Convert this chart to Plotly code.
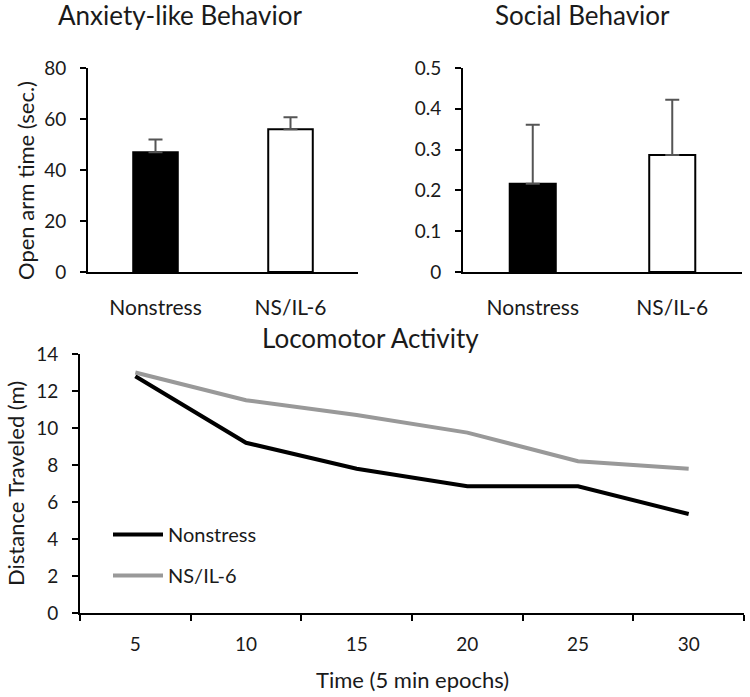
import plotly.graph_objects as go

groups = ["Nonstress", "NS/IL-6"]
anxiety_means = [47, 56]
anxiety_err = [5, 4.7]
social_means = [0.216, 0.287]
social_err = [0.145, 0.135]

epochs = ["5", "10", "15", "20", "25", "30"]
loco_nonstress = [12.8, 9.2, 7.8, 6.85, 6.85, 5.35]
loco_nsil6 = [13.0, 11.5, 10.7, 9.75, 8.2, 7.8]

FONT = "Lato"
TXT = "#1a1a1a"
bar_colors = ["black", "white"]

fig = go.Figure()

fig.add_trace(go.Bar(
    x=groups, y=anxiety_means, xaxis="x", yaxis="y",
    marker=dict(color=bar_colors, line=dict(color="black", width=2)),
    error_y=dict(type="data", array=anxiety_err, arrayminus=[0, 0], symmetric=False,
                 color="#555555", thickness=2, width=7),
    showlegend=False))

fig.add_trace(go.Bar(
    x=groups, y=social_means, xaxis="x2", yaxis="y2",
    marker=dict(color=bar_colors, line=dict(color="black", width=2)),
    error_y=dict(type="data", array=social_err, arrayminus=[0, 0], symmetric=False,
                 color="#555555", thickness=2, width=7),
    showlegend=False))

fig.add_trace(go.Scatter(
    x=epochs, y=loco_nonstress, xaxis="x3", yaxis="y3", mode="lines",
    line=dict(color="black", width=4), name="Nonstress", legendgroup="a"))
fig.add_trace(go.Scatter(
    x=epochs, y=loco_nsil6, xaxis="x3", yaxis="y3", mode="lines",
    line=dict(color="#999999", width=4), name="NS/IL-6", legendgroup="b"))

W, H = 750, 697
def px_x(p):
    return p / W
def px_y(p):
    return 1 - p / H

axis_common = dict(showline=True, linecolor="black", linewidth=2, showgrid=False,
                   zeroline=False, automargin=False,
                   tickfont=dict(family=FONT, size=19, color=TXT))

fig.update_layout(
    width=W, height=H,
    margin=dict(l=0, r=0, t=0, b=0, autoexpand=False),
    paper_bgcolor="white", plot_bgcolor="white",
    bargap=0.67,
    font=dict(family=FONT, color=TXT),
    xaxis=dict(domain=[px_x(88), px_x(358)], anchor="y", ticks="", ticklabelstandoff=16,
               **{**axis_common, "tickfont": dict(family=FONT, size=21, color=TXT)}),
    yaxis=dict(domain=[px_y(272), px_y(68)], anchor="x", range=[0, 80], tickvals=[0, 20, 40, 60, 80],
               ticks="outside", ticklen=6, tickwidth=2, tickcolor="black", ticklabelstandoff=10,
               **axis_common),
    xaxis2=dict(domain=[px_x(463), px_x(742)], anchor="y2", ticks="", ticklabelstandoff=16,
                **{**axis_common, "tickfont": dict(family=FONT, size=21, color=TXT)}),
    yaxis2=dict(domain=[px_y(272), px_y(68)], anchor="x2", range=[0, 0.5],
                tickvals=[0, 0.1, 0.2, 0.3, 0.4, 0.5], ticktext=["0", "0.1", "0.2", "0.3", "0.4", "0.5"],
                ticks="outside", ticklen=6, tickwidth=2, tickcolor="black", ticklabelstandoff=10,
                **axis_common),
    xaxis3=dict(domain=[px_x(80), px_x(744)], anchor="y3", type="category", range=[-0.5, 5.5],
                tickson="boundaries", ticks="outside", ticklen=6, tickwidth=2, tickcolor="black",
                ticklabelstandoff=13, **axis_common),
    yaxis3=dict(domain=[px_y(613), px_y(354)], anchor="x3", range=[0, 14],
                tickvals=[0, 2, 4, 6, 8, 10, 12, 14],
                ticks="outside", ticklen=6, tickwidth=2, tickcolor="black", ticklabelstandoff=10,
                **axis_common),
    legend=dict(x=px_x(108), y=px_y(515), xanchor="left", yanchor="top",
                bgcolor="rgba(0,0,0,0)", font=dict(family=FONT, size=20, color=TXT),
                tracegroupgap=12, itemwidth=50, traceorder="grouped"),
    showlegend=True,
)

annots = [
    dict(text="Anxiety-like Behavior", x=px_x(180), y=px_y(15), size=26, angle=0),
    dict(text="Social Behavior", x=px_x(582), y=px_y(15), size=26, angle=0),
    dict(text="Locomotor Activity", x=px_x(370), y=px_y(338), size=26, angle=0),
    dict(text="Open arm time (sec.)", x=px_x(25), y=px_y(181), size=22, angle=-90),
    dict(text="Distance Traveled (m)", x=px_x(15), y=px_y(484), size=22, angle=-90),
    dict(text="Time (5 min epochs)", x=px_x(412), y=px_y(679), size=22, angle=0),
]
for a in annots:
    fig.add_annotation(text=a["text"], x=a["x"], y=a["y"], xref="paper", yref="paper",
                       xanchor="center", yanchor="middle", showarrow=False, textangle=a["angle"],
                       font=dict(family=FONT, size=a["size"], color=TXT))

fig.write_html("out.html", config={"displayModeBar": False},
               post_script="document.body.style.margin='0';document.body.style.padding='0';document.body.style.overflow='hidden';")
